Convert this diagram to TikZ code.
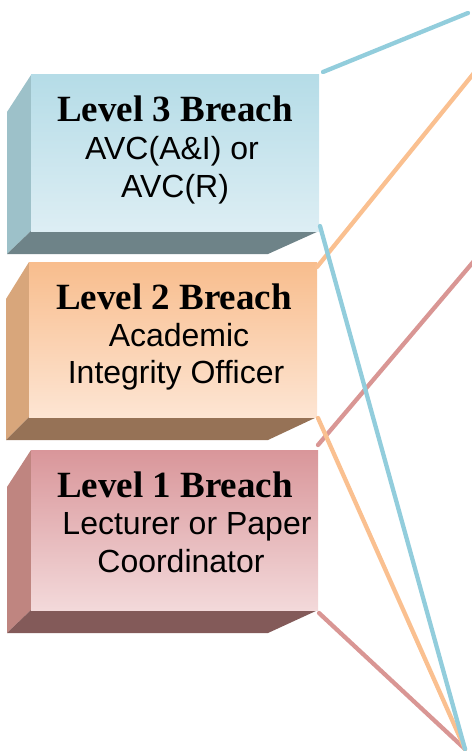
\documentclass[tikz,border=0pt]{standalone}
\usepackage{fontspec}
\setmainfont{Liberation Serif}
\setsansfont{Liberation Sans}

% palette
\definecolor{blueline}{HTML}{92CDDC}
\definecolor{orangeline}{HTML}{FAC090}
\definecolor{redline}{HTML}{D99694}
\definecolor{bluetop}{HTML}{B5DCE7}
\definecolor{bluebot}{HTML}{DDEEF4}
\definecolor{blueside}{HTML}{9DC1C9}
\definecolor{bluebase}{HTML}{6E8388}
\definecolor{orangetop}{HTML}{F8BD8D}
\definecolor{orangebot}{HTML}{FDE5D3}
\definecolor{orangeside}{HTML}{D8A67B}
\definecolor{orangebase}{HTML}{967256}
\definecolor{redtop}{HTML}{D9969A}
\definecolor{redbot}{HTML}{F3D9DA}
\definecolor{redside}{HTML}{BF8580}
\definecolor{redbase}{HTML}{835A59}

\tikzset{
  titletext/.style={anchor=base, inner sep=0pt, font=\fontsize{37}{44}\selectfont\bfseries},
  bodytext/.style={anchor=base, inner sep=0pt, font=\fontsize{32}{38}\selectfont\sffamily},
  linkline/.style={line width=4.3pt, line cap=round},
}

% slab: #1 left, #2 right, #3 top, #4 bottom, #5 side x, #6 colour prefix
\newcommand{\breachslab}[6]{%
  \fill[#6side] (#5,#3+37) -- (#1,#3) -- (#1,#4) -- (#5,#4+23) -- cycle;
  \fill[#6base] (#1,#4) -- (#2,#4) -- (268,#4+23) -- (#5,#4+23) -- cycle;
  \shade[top color=#6top, bottom color=#6bot] (#1,#3) rectangle (#2,#4);
}

\begin{document}
\begin{tikzpicture}[x=1pt, y=-1pt]
  \useasboundingbox (0,0) rectangle (471,751);

  % three stacked slabs
  \breachslab{31}{319}{75}{231}{7}{blue}
  \breachslab{29}{317}{262}{417}{6}{orange}
  \breachslab{31}{318}{450}{610}{7}{red}

  % labels
  \node[titletext] (t3) at (175,122) {Level 3 Breach};
  \node[bodytext]  (a3) at (172,160) {AVC(A\&I) or};
  \node[bodytext]  (b3) at (175,197) {AVC(R)};

  \node[titletext] (t2) at (174,309) {Level 2 Breach};
  \node[bodytext]  (a2) at (179,346) {Academic};
  \node[bodytext]  (b2) at (176,383) {Integrity Officer};

  \node[titletext] (t1) at (175,497) {Level 1 Breach};
  \node[bodytext]  (a1) at (187,534) {Lecturer or Paper};
  \node[bodytext]  (b1) at (181,572) {Coordinator};

  % connector anchors
  \coordinate (c3ne) at (323,72);
  \coordinate (c3se) at (320,226);
  \coordinate (c2ne) at (317,267);
  \coordinate (c2se) at (318,418);
  \coordinate (c1ne) at (318,445);
  \coordinate (c1se) at (319,613);
  \coordinate (e3) at (468,13);
  \coordinate (e2) at (474,73);
  \coordinate (e1) at (474,261);
  \coordinate (apex) at (465,749);

  % fan of connectors
  \draw[linkline, blueline]   (c3ne) -- (e3);
  \draw[linkline, orangeline] (c2ne) -- (e2);
  \draw[linkline, redline]    (c1ne) -- (e1);
  \draw[linkline, redline]    (c1se) -- (apex);
  \draw[linkline, orangeline] (c2se) -- (apex);
  \draw[linkline, blueline]   (c3se) -- (apex);
\end{tikzpicture}
\end{document}
